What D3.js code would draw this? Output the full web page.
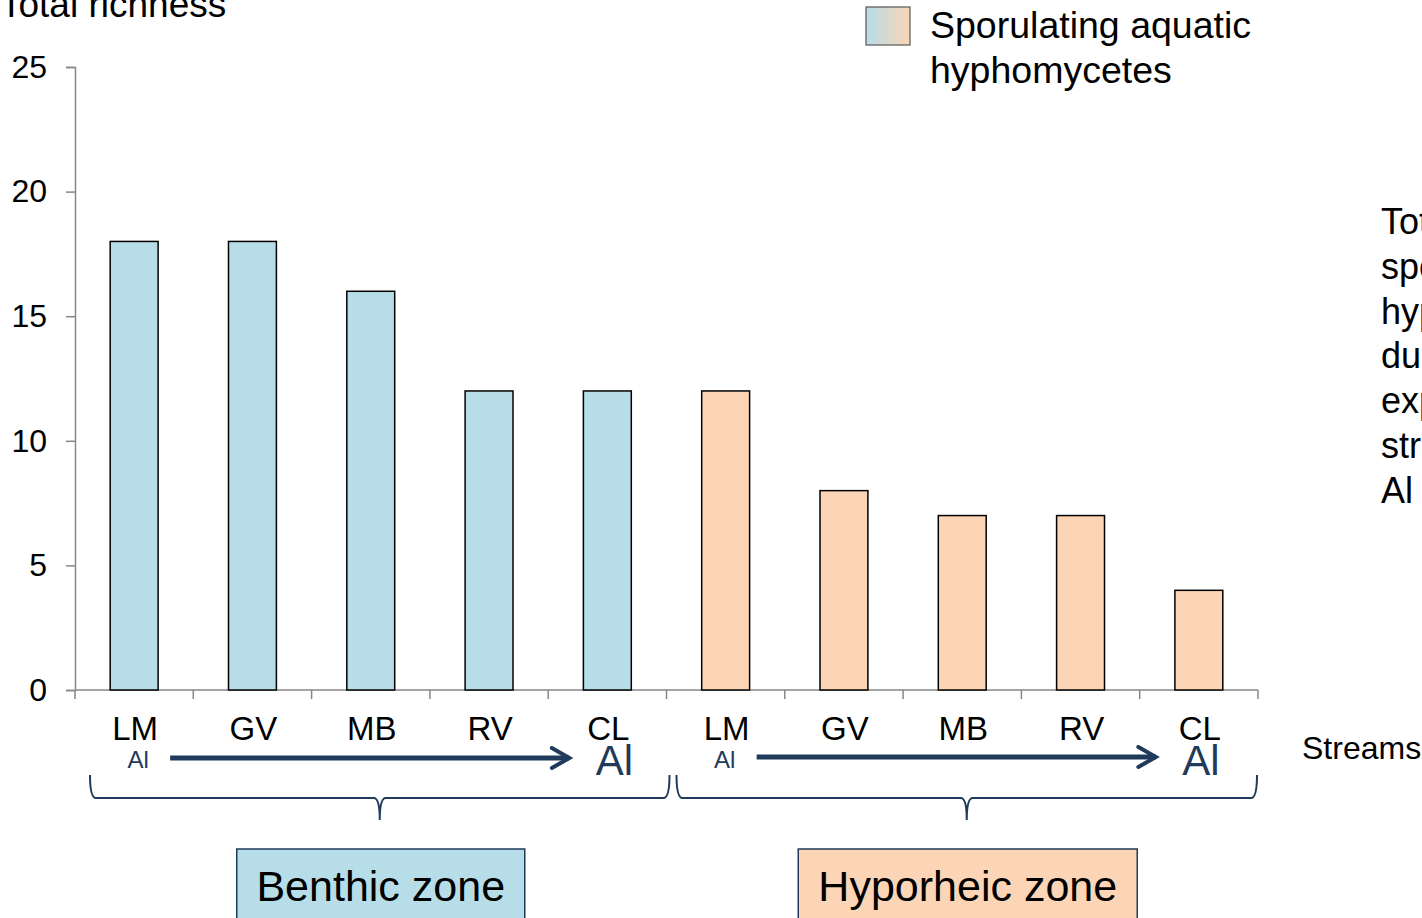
<!DOCTYPE html>
<html>
<head>
<meta charset="utf-8">
<script src="https://cdn.jsdelivr.net/npm/d3@7"></script>
<style>
  body { margin: 0; background: #fff; overflow: hidden; }
  svg { display: block; font-family: "Liberation Sans", Arial, sans-serif; }
</style>
</head>
<body>
<svg id="svg" width="1422" height="918"></svg>
<script>
// data
var streams = ["LM", "GV", "MB", "RV", "CL"];
var zones = ["Benthic zone", "Hyporheic zone"];
var benthic = [18, 18, 16, 12, 12];
var hyporheic = [12, 8, 7, 7, 4];
var yTicks = [0, 5, 10, 15, 20, 25];
var sideNote = ["Total richness of", "sporulating aquatic", "hyphomycetes", "during leaf litter",
                "exposure in the", "streams along the", "Al gradient"];

var blue = "#b7dde8", peach = "#fbd5b5", navy = "#1f3a5a", axisGrey = "#878787";

var svg = d3.select("#svg");
var g = svg.append("g");

// one row of bars: benthic then hyporheic
var rows = [];
benthic.forEach(function(v, i) { rows.push({ key: "b" + i, stream: streams[i], zone: 0, value: v }); });
hyporheic.forEach(function(v, i) { rows.push({ key: "h" + i, stream: streams[i], zone: 1, value: v }); });

var x = d3.scaleBand().domain(rows.map(function(d) { return d.key; })).range([75, 1258]).padding(0);
var y = d3.scaleLinear().domain([0, 25]).range([690, 67]);
var barW = x.bandwidth() * 0.405;

// y axis
var yAxis = g.append("g").attr("transform", "translate(75,0)")
    .call(d3.axisLeft(y).tickValues(yTicks).tickSize(9).tickPadding(19));
yAxis.select(".domain").attr("stroke", axisGrey).attr("stroke-width", 1.5);
yAxis.selectAll(".tick line").attr("stroke", axisGrey).attr("stroke-width", 1.5);
yAxis.selectAll(".tick text").style("font-size", "32px").attr("fill", "#000")
    .attr("font-family", "Liberation Sans, Arial, sans-serif");

// x axis, ticks at band boundaries
var xEdges = x.domain().map(function(k) { return x(k); }).concat([1258]);
g.append("line").attr("x1", 75).attr("x2", 1258).attr("y1", 690).attr("y2", 690)
    .attr("stroke", axisGrey).attr("stroke-width", 1.5);
g.selectAll(".xtick").data(xEdges).enter().append("line")
    .attr("x1", function(d) { return d; }).attr("x2", function(d) { return d; })
    .attr("y1", 690).attr("y2", 699)
    .attr("stroke", axisGrey).attr("stroke-width", 1.5);

// bars
g.selectAll(".bar").data(rows).enter().append("rect")
    .attr("x", function(d) { return x(d.key) + x.bandwidth() / 2 - barW / 2; })
    .attr("y", function(d) { return y(d.value); })
    .attr("width", barW)
    .attr("height", function(d) { return y(0) - y(d.value); })
    .attr("fill", function(d) { return d.zone == 0 ? blue : peach; })
    .attr("stroke", "#000").attr("stroke-width", 1.5);

// stream labels
g.selectAll(".xlab").data(rows).enter().append("text")
    .attr("x", function(d) { return x(d.key) + x.bandwidth() / 2 + 1; })
    .attr("y", 740)
    .attr("text-anchor", "middle")
    .style("font-size", "33px")
    .text(function(d) { return d.stream; });

// axis titles
g.append("text").attr("x", 0).attr("y", 17).style("font-size", "37px").text("Total richness");
g.append("text").attr("x", 1302).attr("y", 759).style("font-size", "32px").text("Streams");

// legend
var grad = svg.append("defs").append("linearGradient").attr("id", "lg");
grad.append("stop").attr("offset", "0%").attr("stop-color", blue);
grad.append("stop").attr("offset", "100%").attr("stop-color", peach);
g.append("rect").attr("x", 866).attr("y", 7).attr("width", 44).attr("height", 38)
    .attr("fill", "url(#lg)").attr("stroke", "#555").attr("stroke-width", 1.2);
g.append("text").attr("x", 930).attr("y", 38).style("font-size", "37.5px").text("Sporulating aquatic");
g.append("text").attr("x", 930).attr("y", 83).style("font-size", "37.5px").text("hyphomycetes");

// side note (runs off the right edge)
g.selectAll(".note").data(sideNote).enter().append("text")
    .attr("x", 1381)
    .attr("y", function(d, i) { return 234 + i * 44.8; })
    .style("font-size", "36px")
    .text(function(d) { return d; });

// Al gradient arrows, braces and zone boxes
svg.select("defs").append("marker").attr("id", "arr")
    .attr("viewBox", "0 0 10 10").attr("refX", 8).attr("refY", 5)
    .attr("markerWidth", 5).attr("markerHeight", 5).attr("markerUnits", "strokeWidth")
    .attr("orient", "auto")
    .append("path").attr("d", "M1,1 L8,5 L1,9").attr("fill", "none")
    .attr("stroke", navy).attr("stroke-width", 1.6).attr("stroke-linecap", "round");

zones.forEach(function(z, zi) {
    var first = x(rows[zi * 5].key), last = x(rows[zi * 5 + 4].key) + x.bandwidth();
    var c0 = first + x.bandwidth() / 2, c4 = last - x.bandwidth() / 2;
    var shift = -5 * zi;
    var ay = 758 - zi;

    g.append("text").attr("x", c0 + 4 + shift).attr("y", 768).attr("text-anchor", "middle")
        .attr("fill", navy).style("font-size", "24px").text("Al");
    g.append("line").attr("x1", c0 + 36 + shift).attr("x2", c4 - 38 + shift).attr("y1", ay).attr("y2", ay)
        .attr("stroke", navy).attr("stroke-width", 5).attr("marker-end", "url(#arr)");
    g.append("text").attr("x", c4 + 7 + shift).attr("y", 775).attr("text-anchor", "middle")
        .attr("fill", navy).style("font-size", "42px").text("Al");

    // brace
    var bl = first + 15 - zi * 5, br = last + 3 - zi * 4, bm = (bl + br) / 2, top = 775, mid = 798, tip = 820;
    var p = d3.path();
    p.moveTo(bl, top); p.quadraticCurveTo(bl, mid, bl + 6, mid);
    p.lineTo(bm - 6, mid); p.quadraticCurveTo(bm, mid, bm, tip);
    p.moveTo(bm, tip); p.quadraticCurveTo(bm, mid, bm + 6, mid);
    p.lineTo(br - 6, mid); p.quadraticCurveTo(br, mid, br, top);
    g.append("path").attr("d", p.toString()).attr("fill", "none")
        .attr("stroke", navy).attr("stroke-width", 2);

    // zone box
    var boxW = zi == 0 ? 288 : 339;
    g.append("rect").attr("x", bm + 1 - boxW / 2).attr("y", 849).attr("width", boxW).attr("height", 80)
        .attr("fill", zi == 0 ? blue : peach).attr("stroke", navy).attr("stroke-width", 1.5);
    g.append("text").attr("x", bm + 1).attr("y", 901).attr("text-anchor", "middle")
        .style("font-size", "43px").text(z);
});
</script>
</body>
</html>
